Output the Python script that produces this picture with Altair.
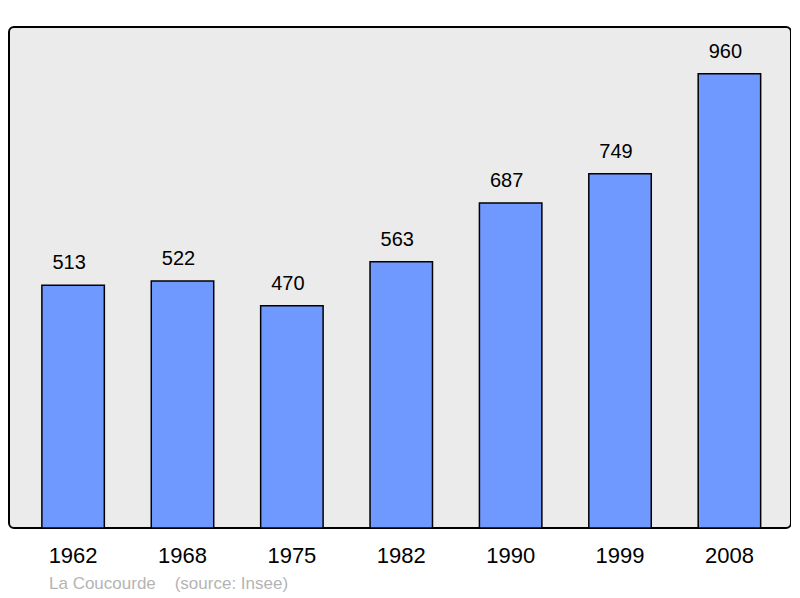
import altair as alt
import pandas as pd

years = ["1962", "1968", "1975", "1982", "1990", "1999", "2008"]
population = [513, 522, 470, 563, 687, 749, 960]
source_note = "La Coucourde\u00a0\u00a0\u00a0\u00a0(source: Insee)"

df = pd.DataFrame({"year": years, "pop": population})

x = alt.X("year:N", sort=years, title=None,
          scale=alt.Scale(paddingInner=0.429, paddingOuter=0.289, align=0.52),
          axis=alt.Axis(domain=False, ticks=False, labelAngle=0, labelFontSize=22,
                        labelFont="Liberation Sans", labelColor="black", labelPadding=17))
y = alt.Y("pop:Q", title=None, scale=alt.Scale(domain=[0, 1059], nice=False),
          axis=None)

bars = alt.Chart(df).mark_bar(color="#7099ff", stroke="black", strokeWidth=1.5).encode(x=x, y=y)
labels = alt.Chart(df).mark_text(dy=-22, dx=-4, fontSize=20, font="Liberation Sans", color="black",
                                 baseline="middle").encode(x=x, y=y, text="pop:Q")
note = alt.Chart(pd.DataFrame({"t": [source_note]})).mark_text(
    align="left", baseline="middle", fontSize=17, font="Liberation Sans", color="#b4b4b4"
).encode(x=alt.value(40), y=alt.value(557), text="t:N")

chart = alt.layer(bars, labels, note).properties(
    width=782, height=501,
    autosize=alt.AutoSizeParams(type="none"),
    padding={"left": 1, "top": 19, "right": 0, "bottom": 70},
).configure_view(stroke="black", strokeWidth=2, fill="#ebebeb", cornerRadius=5)

chart.save("out.html", embed_options={"renderer": "svg", "actions": False})
